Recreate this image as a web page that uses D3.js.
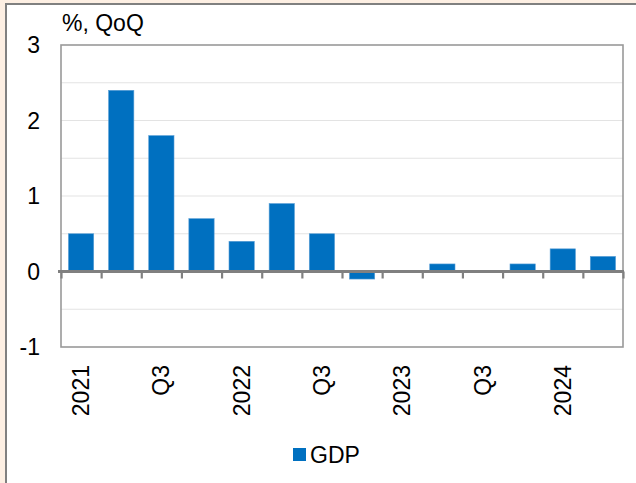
<!DOCTYPE html>
<html>
<head>
<meta charset="utf-8">
<script src="https://cdn.jsdelivr.net/npm/d3@7"></script>
<style>
  html, body { margin: 0; padding: 0; background: #fdefe3; }
  svg { display: block; font-family: "Liberation Sans", Arial, sans-serif; }
</style>
</head>
<body>
<svg id="chart" width="636" height="483"></svg>
<script>
// quarterly GDP growth, % QoQ
const quarters = ["2021 Q1", "2021 Q2", "2021 Q3", "2021 Q4",
                  "2022 Q1", "2022 Q2", "2022 Q3", "2022 Q4",
                  "2023 Q1", "2023 Q2", "2023 Q3", "2023 Q4",
                  "2024 Q1", "2024 Q2"];
const gdp = [0.5, 2.4, 1.8, 0.7, 0.4, 0.9, 0.5, -0.1, 0, 0.1, 0, 0.1, 0.3, 0.2];
const xLabels = ["2021", "", "Q3", "", "2022", "", "Q3", "", "2023", "", "Q3", "", "2024", ""];
const yTicks = [-1, 0, 1, 2, 3];
const gridVals = [-0.5, 0.5, 1, 1.5, 2, 2.5];

const svg = d3.select("#chart");

// white card with grey frame top/left
svg.append("rect").attr("x", 6).attr("y", 4).attr("width", 640).attr("height", 490)
  .attr("fill", "#fff").attr("stroke", "#808080").attr("stroke-width", 2);

const plotL = 61, plotR = 623, plotT = 45, plotB = 347;
const fontSize = "23px";

const x = d3.scaleBand().domain(quarters).range([plotL, plotR]).paddingInner(0.37).paddingOuter(0.185);
const xEdge = d3.scaleLinear().domain([0, quarters.length]).range([plotL, plotR]);
const y = d3.scaleLinear().domain([-1, 3]).range([plotB, plotT]);

// gridlines
svg.append("g").selectAll("line").data(gridVals).enter().append("line")
  .attr("x1", plotL).attr("x2", plotR)
  .attr("y1", d => y(d)).attr("y2", d => y(d))
  .attr("stroke", "#e3e3e3").attr("stroke-width", 1.2);

// plot frame
svg.append("rect").attr("x", plotL).attr("y", plotT)
  .attr("width", plotR - plotL).attr("height", plotB - plotT)
  .attr("fill", "none").attr("stroke", "#999").attr("stroke-width", 1.6);

// bars
svg.append("g").selectAll("rect").data(gdp).enter().append("rect")
  .attr("x", (d, i) => x(quarters[i]))
  .attr("y", d => y(Math.max(d, 0)))
  .attr("width", x.bandwidth())
  .attr("height", d => Math.abs(y(0) - y(d)))
  .attr("fill", "#0070c0")
  .attr("stroke", "#5a9fd6").attr("stroke-width", 0.6);

// zero axis with tick marks at category edges
const zeroAxis = d3.axisBottom(xEdge)
  .tickValues(d3.range(0, quarters.length + 1))
  .tickSize(7).tickSizeOuter(0).tickFormat("");
svg.append("g").attr("transform", `translate(0,${y(0)})`).call(zeroAxis)
  .call(g => g.select(".domain").remove())
  .call(g => g.selectAll(".tick line").attr("stroke", "#808080").attr("stroke-width", 2.2));
svg.append("line").attr("x1", 58).attr("x2", plotR + 1)
  .attr("y1", y(0)).attr("y2", y(0))
  .attr("stroke", "#808080").attr("stroke-width", 3);

// y tick labels
svg.append("g").selectAll("text").data(yTicks).enter().append("text")
  .attr("x", 40).attr("y", d => y(d)).attr("dy", "0.36em")
  .attr("text-anchor", "end").attr("font-size", fontSize).attr("fill", "#000")
  .text(d => d);

// x labels, rotated
svg.append("g").selectAll("text").data(quarters).enter().append("text")
  .attr("transform", d => `translate(${x(d) + x.bandwidth() / 2 + 8},365) rotate(-90)`)
  .attr("text-anchor", "end").attr("font-size", fontSize).attr("fill", "#000")
  .text((d, i) => xLabels[i]);

// unit label
svg.append("text").attr("x", 62).attr("y", 31)
  .attr("font-size", fontSize).attr("fill", "#000").text("%, QoQ");

// legend
svg.append("rect").attr("x", 293).attr("y", 448).attr("width", 13).attr("height", 13)
  .attr("fill", "#0070c0");
svg.append("text").attr("x", 310).attr("y", 463)
  .attr("font-size", fontSize).attr("fill", "#000").text("GDP");
</script>
</body>
</html>
